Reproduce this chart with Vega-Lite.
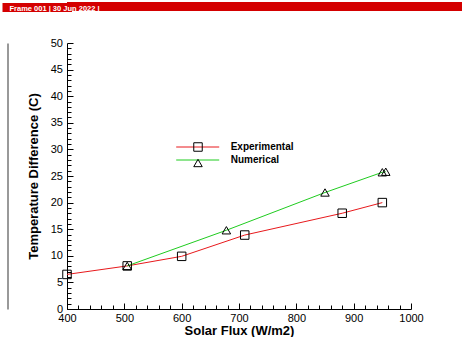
{
  "$schema": "https://vega.github.io/schema/vega-lite/v6.json",
  "padding": 0,
  "background": "white",
  "spacing": 23,
  "config": {
    "font": "Liberation Sans",
    "view": {"stroke": null},
    "axis": {"labelOverlap": false, "labelFlush": false}
  },
  "datasets": {
    "header": [{"part": "header"}],
    "series": [
      {"series": "Experimental", "flux": 400, "dt": 6.5},
      {"series": "Experimental", "flux": 505, "dt": 8.1},
      {"series": "Experimental", "flux": 600, "dt": 9.9},
      {"series": "Experimental", "flux": 710, "dt": 13.9},
      {"series": "Experimental", "flux": 880, "dt": 18.0},
      {"series": "Experimental", "flux": 950, "dt": 20.0},
      {"series": "Numerical", "flux": 505, "dt": 8.1},
      {"series": "Numerical", "flux": 678, "dt": 14.8},
      {"series": "Numerical", "flux": 850, "dt": 21.9},
      {"series": "Numerical", "flux": 950, "dt": 25.7},
      {"series": "Numerical", "flux": 956, "dt": 25.8}
    ]
  },
  "vconcat": [
    {
      "width": 396,
      "height": 9,
      "data": {"name": "header"},
      "view": {"fill": "#d40000"},
      "title": {
        "text": "Frame 001  |  30 Jun 2022  |",
        "frame": "group",
        "anchor": "start",
        "orient": "top",
        "offset": -12,
        "dx": -57.5,
        "color": "white",
        "fontSize": 7.5,
        "fontWeight": "bold",
        "font": "Liberation Sans"
      },
      "layer": [
        {
          "mark": {"type": "rect", "color": "#d40000"},
          "encoding": {}
        },
        {
          "mark": {"type": "point", "opacity": 0},
          "encoding": {
            "y": {
              "datum": 0.5,
              "type": "quantitative",
              "scale": {"domain": [0, 1], "nice": false},
              "axis": {
                "title": null,
                "labels": false,
                "domain": false,
                "grid": false,
                "values": [0.5],
                "tickSize": 60.5,
                "tickWidth": 9,
                "tickCap": "square",
                "tickColor": "#d40000"
              }
            }
          }
        }
      ]
    },
    {
      "width": 344,
      "height": 266,
      "data": {"name": "series"},
      "resolve": {"axis": {"y": "independent"}},
      "encoding": {
        "x": {
          "field": "flux",
          "type": "quantitative",
          "scale": {"domain": [400, 1000], "nice": false, "zero": false},
          "axis": {
            "title": "Solar Flux (W/m2)",
            "titleFontSize": 13,
            "titleFontWeight": "bold",
            "titleColor": "black",
            "titlePadding": -1,
            "values": [400,420,440,460,480,500,520,540,560,580,600,620,640,660,680,700,720,740,760,780,800,820,840,860,880,900,920,940,960,980,1000],
            "format": "d",
            "labelExpr": "datum.value % 100 === 0 ? datum.label : ''",
            "labelFontSize": 11,
            "labelColor": "black",
            "labelPadding": 9,
            "labelOverlap": false,
            "labelFlush": false,
            "grid": false,
            "domainColor": "black",
            "tickColor": "black",
            "tickSize": {"condition": {"test": "datum.value % 100 === 0", "value": -6}, "value": -4}
          }
        }
      },
      "layer": [
        {
          "mark": {"type": "line", "strokeWidth": 1},
          "encoding": {
            "y": {
              "field": "dt",
              "type": "quantitative",
              "scale": {"domain": [0, 50], "nice": false},
              "axis": {
                "orient": "left",
                "title": "Temperature Difference (C)",
                "titleFontSize": 13,
                "titleFontWeight": "bold",
                "titleColor": "black",
                "titlePadding": 10,
                "values": [0,1,2,3,4,5,6,7,8,9,10,11,12,13,14,15,16,17,18,19,20,21,22,23,24,25,26,27,28,29,30,31,32,33,34,35,36,37,38,39,40,41,42,43,44,45,46,47,48,49,50],
                "labelExpr": "datum.value % 5 === 0 ? datum.label : ''",
                "labelFontSize": 11,
                "labelColor": "black",
                "labelPadding": 10.5,
                "labelOverlap": false,
                "labelFlush": false,
                "grid": false,
                "domainColor": "black",
                "tickColor": "black",
                "tickSize": {"condition": {"test": "datum.value % 5 === 0", "value": -6}, "value": -4}
              }
            },
            "color": {
              "field": "series",
              "type": "nominal",
              "scale": {"domain": ["Experimental", "Numerical"], "range": ["#e8191c", "#1fcc1f"]},
              "legend": {
                "orient": "none",
                "legendX": 125.7,
                "legendY": 140,
                "title": null,
                "padding": 0,
                "symbolType": "M-5,0H5",
                "symbolSize": 74,
                "symbolStrokeWidth": 1,
                "labelFont": "Liberation Sans",
                "labelFontSize": 10,
                "labelFontWeight": "bold",
                "labelColor": "black",
                "labelOffset": 28,
                "rowPadding": 3
              }
            }
          }
        },
        {
          "mark": {"type": "point", "filled": false, "color": "black", "strokeWidth": 1, "size": 72, "opacity": 1},
          "encoding": {
            "y": {
              "field": "dt",
              "type": "quantitative",
              "axis": {
                "orient": "left",
                "offset": 59.5,
                "title": null,
                "labels": false,
                "grid": false,
                "values": [25],
                "domainColor": "#777777",
                "domainWidth": 1.5,
                "tickColor": "transparent",
                "tickSize": 5.5
              }
            },
            "shape": {
              "field": "series",
              "type": "nominal",
              "scale": {"range": ["square", "triangle-up"]},
              "legend": {
                "orient": "none",
                "legendX": 126,
                "legendY": 140,
                "title": null,
                "padding": 0,
                "symbolSize": 72,
                "symbolStrokeColor": "black",
                "symbolFillColor": "transparent",
                "symbolStrokeWidth": 1,
                "labelFontSize": 10,
                "labelExpr": "''",
                "rowPadding": 3
              }
            }
          }
        }
      ]
    }
  ]
}
